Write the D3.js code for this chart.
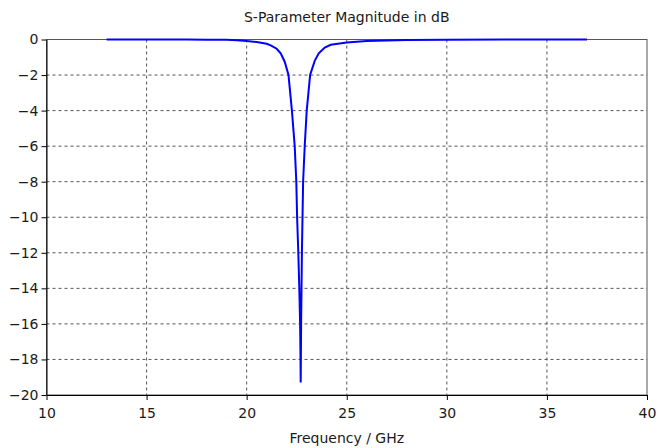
<!DOCTYPE html>
<html>
<head>
<meta charset="utf-8">
<script src="https://cdn.jsdelivr.net/npm/d3@7"></script>
<style>
  body { margin: 0; background: #fff; }
  text { font-family: "DejaVu Sans", sans-serif; fill: #1a1a1a; }
</style>
</head>
<body>
<svg id="chart" width="664" height="448"></svg>
<script>
// S11 curve
const freqGHz = [13, 15, 17, 18, 19, 19.5, 20, 20.5, 21, 21.2, 21.5, 21.7, 21.9, 22.09,
  22.26, 22.4, 22.48, 22.52, 22.58, 22.63, 22.67, 22.69, 22.7, 22.72, 22.74, 22.76,
  22.79, 22.82, 22.9, 23.0, 23.17, 23.4, 23.6, 23.9, 24.2, 25, 26, 27, 28, 30, 33, 37];
const magDB = [0, 0, 0, -0.01, -0.02, -0.04, -0.08, -0.14, -0.24, -0.33, -0.52, -0.78, -1.25, -2,
  -4, -6, -8, -10, -12, -14, -16, -18, -19.3, -16, -14, -12,
  -10, -8, -6, -4, -2, -1.2, -0.78, -0.45, -0.3, -0.17, -0.09, -0.05, -0.03, -0.01, 0, 0];

const xTicks = [10, 15, 20, 25, 30, 35, 40];
const yTicks = [0, -2, -4, -6, -8, -10, -12, -14, -16, -18, -20];

const title = "S-Parameter Magnitude in dB";
const xLabel = "Frequency / GHz";

const data = freqGHz.map((f, i) => ({f: f, v: magDB[i]}));

const svg = d3.select("#chart");
const margin = {top: 39.5, right: 17, bottom: 53, left: 46.5};
const width = 664 - margin.left - margin.right;
const height = 448 - margin.top - margin.bottom;
const g = svg.append("g").attr("transform", `translate(${margin.left},${margin.top})`);

const x = d3.scaleLinear().domain([10, 40]).range([0, width]);
const y = d3.scaleLinear().domain([-20, 0]).range([height, 0]);

// dashed grid
g.append("g")
  .selectAll("line")
  .data(xTicks.slice(1, -1))
  .join("line")
  .attr("x1", d => x(d)).attr("x2", d => x(d))
  .attr("y1", 0).attr("y2", height)
  .attr("stroke", "#555").attr("stroke-dasharray", "3,3");
g.append("g")
  .selectAll("line")
  .data(yTicks.slice(1, -1))
  .join("line")
  .attr("x1", 0).attr("x2", width)
  .attr("y1", d => y(d)).attr("y2", d => y(d))
  .attr("stroke", "#555").attr("stroke-dasharray", "3,3");

// frame
g.append("rect")
  .attr("width", width).attr("height", height)
  .attr("fill", "none").attr("stroke", "#555");

// axes
const xAxis = g.append("g")
  .attr("transform", `translate(0,${height})`)
  .call(d3.axisBottom(x).tickValues(xTicks).tickSize(5).tickSizeOuter(0));
const yAxis = g.append("g")
  .call(d3.axisLeft(y).tickValues(yTicks).tickSize(5).tickSizeOuter(0));
[xAxis, yAxis].forEach(a => {
  a.selectAll(".domain").attr("stroke", "#000");
  a.selectAll(".tick line").attr("stroke", "#000");
  a.selectAll("text").style("font-size", "14px").attr("fill", "#1a1a1a");
});
xAxis.selectAll("text").attr("dy", "1.1em");
yAxis.selectAll("text").attr("x", -8);

const line = d3.line()
  .x(d => x(d.f))
  .y(d => y(d.v));

g.append("path")
  .datum(data)
  .attr("fill", "none")
  .attr("stroke", "#0000ff")
  .attr("stroke-width", 2)
  .attr("d", line);

svg.append("text")
  .attr("x", margin.left + width / 2).attr("y", 22)
  .attr("text-anchor", "middle")
  .style("font-size", "14px")
  .text(title);

svg.append("text")
  .attr("x", margin.left + width / 2).attr("y", 443)
  .attr("text-anchor", "middle")
  .style("font-size", "14px")
  .text(xLabel);
</script>
</body>
</html>
